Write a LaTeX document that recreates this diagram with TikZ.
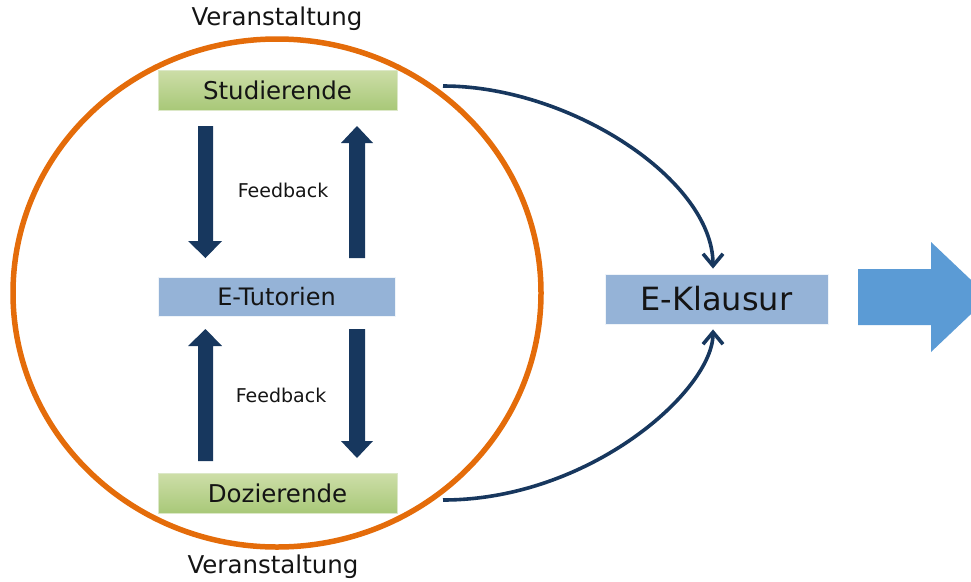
\documentclass[tikz,border=0pt]{standalone}
\usepackage{fontspec}
\setmainfont{DejaVu Sans}
\usetikzlibrary{arrows.meta}
\definecolor{navy}{RGB}{23,55,94}
\definecolor{orng}{RGB}{228,108,10}
\definecolor{gtop}{RGB}{205,222,168}
\definecolor{gbot}{RGB}{168,200,120}
\definecolor{gline}{RGB}{220,232,200}
\definecolor{bfill}{RGB}{149,179,215}
\definecolor{bigblue}{RGB}{91,155,213}
\definecolor{txt}{RGB}{20,20,20}
\begin{document}
\begin{tikzpicture}[x=1pt,y=-1pt,
  greenbox/.style={draw=gline,line width=0.8pt,top color=gtop,bottom color=gbot,minimum width=239pt,minimum height=40pt,inner sep=0pt,text=txt,font=\fontsize{24.5}{26}\selectfont},
  bluebox/.style={draw=white!85!bfill,line width=0.8pt,fill=bfill,minimum width=237pt,minimum height=39pt,inner sep=0pt,text=txt,font=\fontsize{24}{26}\selectfont},
  lbl/.style={text=txt,inner sep=0pt},
  conn/.style={draw=navy,line width=3.6pt,-{Straight Barb[length=12pt,width=20pt,line width=3.6pt]}},
  blk/.style={fill=navy}]
\useasboundingbox (0,0) rectangle (971,581);
% ellipse
\draw[orng,line width=5.5pt] (277,293) ellipse [x radius=264, y radius=254];
% labels
\node[lbl,font=\fontsize{24.5}{26}\selectfont] (v1) at (277,19) {Veranstaltung};
\node[lbl,font=\fontsize{24.5}{26}\selectfont] (v2) at (273,567) {Veranstaltung};
% boxes
\node[greenbox] (stud) at (277.5,90) {Studierende};
\node[bluebox] (etut) at (276.5,296.5) {E-Tutorien};
\node[greenbox] (doz) at (277.5,493.5) {Dozierende};
\node[bluebox,minimum width=223pt,minimum height=50pt,font=\fontsize{32}{34}\selectfont] (ek) at (716.5,299) {E-Klausur};
% feedback labels
\node[lbl,font=\fontsize{19}{21}\selectfont] (fb1) at (283,190) {Feedback};
\node[lbl,font=\fontsize{19}{21}\selectfont] (fb2) at (281,395) {Feedback};
% block arrows (upper)
\fill[blk] (198,126) -- (213,126) -- (213,241) -- (222,241) -- (205.5,258) -- (188,241) -- (198,241) -- cycle;
\fill[blk] (349,258) -- (365,258) -- (365,143) -- (373,143) -- (357,126) -- (341,143) -- (349,143) -- cycle;
% block arrows (lower)
\fill[blk] (198,461) -- (213,461) -- (213,346) -- (222,346) -- (205.5,329) -- (188,346) -- (198,346) -- cycle;
\fill[blk] (349,329) -- (365,329) -- (365,441) -- (373,441) -- (357,458) -- (341,441) -- (349,441) -- cycle;
% curved connectors
\coordinate (s1) at (443,86);
\coordinate (s2) at (443,500);
\draw[conn,shorten >=5pt] (s1) .. controls (570,86) and (713,180) .. (ek.north -| 713,0);
\draw[conn,shorten >=5pt] (s2) .. controls (590,500) and (713,390) .. (ek.south -| 713,0);
% big arrow
\fill[bigblue] (858,269) -- (931,269) -- (931,242) -- (989,297) -- (931,352) -- (931,325) -- (858,325) -- cycle;
\end{tikzpicture}
\end{document}
